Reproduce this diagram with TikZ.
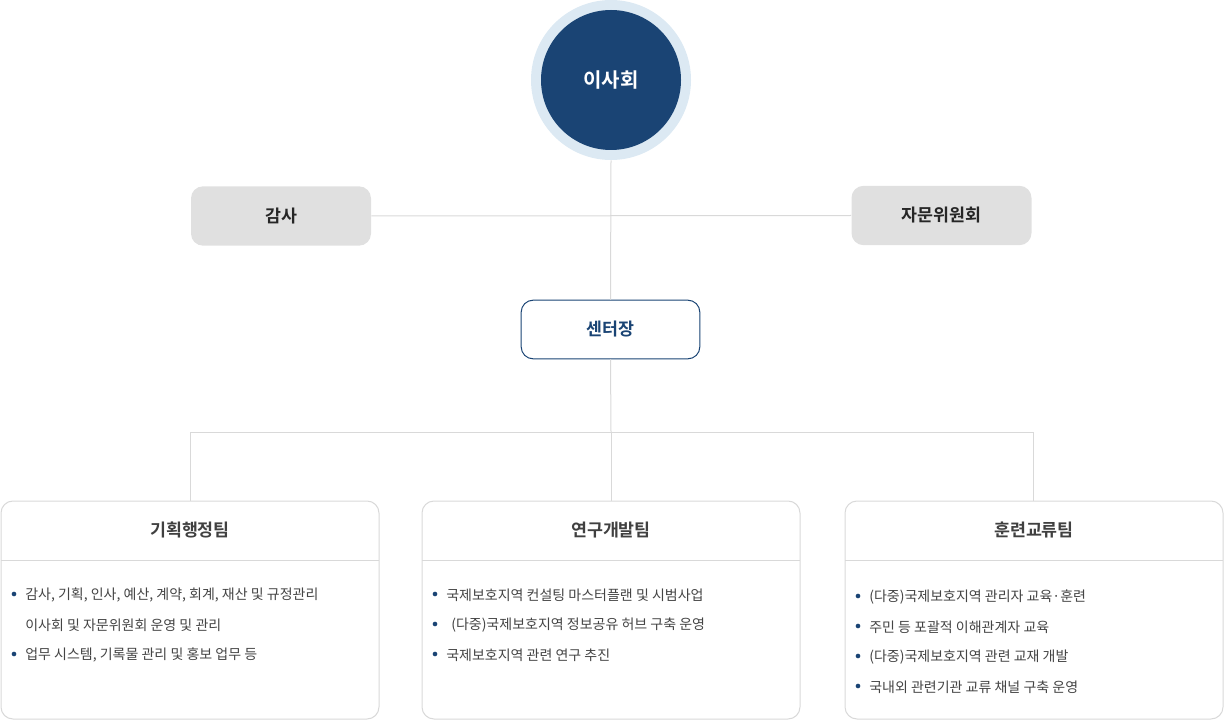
\documentclass[tikz,border=0pt]{standalone}
\usepackage{fontspec}
\setmainfont{Noto Sans CJK KR}
\newfontfamily\kb[FakeBold=0]{Noto Sans CJK KR Bold}
\definecolor{navy}{HTML}{1A4474}
\definecolor{halo}{HTML}{DCE9F3}
\definecolor{gbox}{HTML}{E0E0E0}
\definecolor{lnc}{HTML}{D9D9D9}
\definecolor{txt}{HTML}{444444}
\begin{document}
\begin{tikzpicture}[x=0.75pt,y=-0.75pt,
  conn/.style={draw=lnc,line width=0.75pt},
  graybox/.style={fill=gbox,rounded corners=9pt,minimum width=135pt,minimum height=44.5pt,font=\kb\fontsize{13}{15}\selectfont,text=black!85},
  teambox/.style={draw=lnc,rounded corners=9pt,fill=white,line width=0.75pt},
  item/.style={anchor=west,font=\fontsize{10.5}{12}\selectfont,text=txt,inner sep=0pt},
  dot/.style={circle,fill=navy,inner sep=0pt,minimum size=3.5pt}]
\useasboundingbox (0,0) rectangle (1224,720);
% connectors
\coordinate (c1) at (611,215);
\coordinate (j) at (611,432);
\coordinate (l) at (190,432);
\coordinate (r) at (1033,432);
\node[circle,fill=halo,minimum size=120pt,inner sep=0pt] (halo) at (611,80) {};
\node[graybox] (gam) at (281,216) {감사};
\node[graybox] (ja) at (941.5,215.5) {자문위원회};
\node[draw=navy,fill=white,rounded corners=9pt,minimum width=134pt,minimum height=44pt,font=\kb\fontsize{13}{15}\selectfont,text=navy,line width=0.75pt] (ceo) at (610.5,329.5) {센터장};
\draw[conn] (halo.south) -- (ceo.north);
\draw[conn] (gam.east) -- (ja.west);
\draw[conn] (ceo.south) -- (j);
\draw[conn] (l) -- (r);
\node[circle,fill=navy,minimum size=105pt,inner sep=0pt,text=white,font=\kb\fontsize{15}{18}\selectfont] (board) at (611,80) {이사회};
% team boxes
\foreach \n/\xa/\xb/\t in {t1/1/379/기획행정팀, t2/422/800/연구개발팀, t3/845/1223/훈련교류팀}{
  \draw[teambox] (\xa,501) rectangle (\xb,719);
  \draw[conn] (\xa,560) -- (\xb,560);
  \node[font=\kb\fontsize{13}{15}\selectfont,text=black!75] (\n) at ({(\xa+\xb)/2},530) {\t};
}
\draw[conn] (l) -- (190,501);
\draw[conn] (j) -- (611,501);
\draw[conn] (r) -- (1033,501);
% items
\node[dot] at (14,594) {}; \node[item] at (25,595) {감사, 기획, 인사, 예산, 계약, 회계, 재산 및 규정관리};
\node[item] at (25,625) {이사회 및 자문위원회 운영 및 관리};
\node[dot] at (14,654) {}; \node[item] at (25,655) {업무 시스템, 기록물 관리 및 홍보 업무 등};
\node[dot] at (435,594) {}; \node[item] at (446,595) {국제보호지역 컨설팅 마스터플랜 및 시범사업};
\node[dot] at (435,624) {}; \node[item] at (451,625) {(다중)국제보호지역 정보공유 허브 구축 운영};
\node[dot] at (435,654) {}; \node[item] at (446,655) {국제보호지역 관련 연구 추진};
\node[dot] at (858,596) {}; \node[item] at (869,597) {(다중)국제보호지역 관리자 교육·훈련};
\node[dot] at (858,626) {}; \node[item] at (869,627) {주민 등 포괄적 이해관계자 교육};
\node[dot] at (858,656) {}; \node[item] at (869,657) {(다중)국제보호지역 관련 교재 개발};
\node[dot] at (858,686) {}; \node[item] at (869,687) {국내외 관련기관 교류 채널 구축 운영};
\end{tikzpicture}
\end{document}
